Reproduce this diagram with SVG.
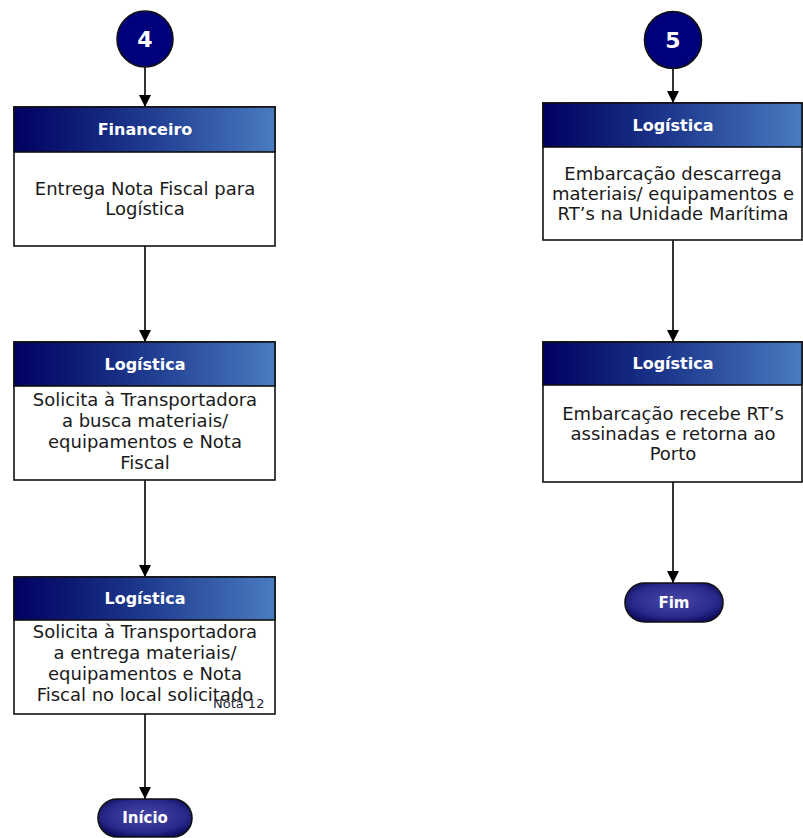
<svg xmlns="http://www.w3.org/2000/svg" width="803" height="838" viewBox="0 0 803 838">
<defs>
<linearGradient id="hdr" x1="0" y1="0" x2="1" y2="0">
<stop offset="0" stop-color="#000060"/>
<stop offset="0.5" stop-color="#1e3a8e"/>
<stop offset="1" stop-color="#4a7bbf"/>
</linearGradient>
<radialGradient id="term" cx="0.5" cy="0.45" r="0.6">
<stop offset="0" stop-color="#4848a8"/>
<stop offset="0.7" stop-color="#2a2a8c"/>
<stop offset="1" stop-color="#0c0c60"/>
</radialGradient>
<marker id="arr" viewBox="0 0 12 12" refX="12" refY="6" markerWidth="12" markerHeight="12" markerUnits="userSpaceOnUse" orient="auto">
<path d="M0,0 L12,6 L0,12 Z" fill="#000"/>
</marker>
</defs>
<style>
.box{fill:#fff;stroke:#111;stroke-width:1.6}
.hdr{fill:url(#hdr);stroke:#111;stroke-width:1.6}
.ht{font-family:"DejaVu Sans",Verdana,sans-serif;font-weight:bold;font-size:16px;fill:#fff;text-anchor:middle}
.bt{font-family:"DejaVu Sans",Verdana,sans-serif;font-size:18px;fill:#1a1a1a;text-anchor:middle}
.circ{fill:#00007a;stroke:#111;stroke-width:1.6}
.ct{font-family:"DejaVu Sans",Verdana,sans-serif;font-weight:bold;font-size:22px;fill:#fff;text-anchor:middle}
.term{fill:url(#term);stroke:#111;stroke-width:1.6}
.tt{font-family:"DejaVu Sans",Verdana,sans-serif;font-weight:bold;font-size:15px;fill:#fff;text-anchor:middle}
.con{stroke:#000;stroke-width:1.6;fill:none;marker-end:url(#arr)}
.note{font-family:"DejaVu Sans",Verdana,sans-serif;font-size:13px;fill:#223}
</style>

<g id="connectors">
<line class="con" x1="145" y1="67" x2="145" y2="107"/>
<line class="con" x1="145" y1="246" x2="145" y2="342"/>
<line class="con" x1="145" y1="480" x2="145" y2="577"/>
<line class="con" x1="145" y1="714" x2="145" y2="799"/>
<line class="con" x1="673" y1="69" x2="673" y2="103"/>
<line class="con" x1="673" y1="240" x2="673" y2="342"/>
<line class="con" x1="673" y1="482" x2="673" y2="583"/>
</g>

<g id="c4">
<circle class="circ" cx="145" cy="39" r="28"/>
<text class="ct" x="145" y="47">4</text>
</g>

<g id="financeiro">
<rect class="box" x="14" y="107" width="261" height="139"/>
<rect class="hdr" x="14" y="107" width="261" height="45"/>
<text class="ht" x="145" y="135">Financeiro</text>
<text class="bt" x="145" y="195">Entrega Nota Fiscal para</text>
<text class="bt" x="145" y="215">Logística</text>
</g>

<g id="logistica1">
<rect class="box" x="14" y="342" width="261" height="138"/>
<rect class="hdr" x="14" y="342" width="261" height="44"/>
<text class="ht" x="145" y="370">Logística</text>
<text class="bt" x="145" y="406">Solicita à Transportadora</text>
<text class="bt" x="145" y="427">a busca materiais/</text>
<text class="bt" x="145" y="448">equipamentos e Nota</text>
<text class="bt" x="145" y="469">Fiscal</text>
</g>

<g id="logistica2">
<rect class="box" x="14" y="577" width="261" height="137"/>
<rect class="hdr" x="14" y="577" width="261" height="43"/>
<text class="ht" x="145" y="604">Logística</text>
<text class="bt" x="145" y="638">Solicita à Transportadora</text>
<text class="bt" x="145" y="659">a entrega materiais/</text>
<text class="bt" x="145" y="680">equipamentos e Nota</text>
<text class="bt" x="145" y="701">Fiscal no local solicitado</text>
<text class="note" x="213" y="708">Nota 12</text>
</g>

<g id="inicio">
<rect class="term" x="98" y="799" width="94" height="38" rx="19" ry="19"/>
<text class="tt" x="145" y="823">Início</text>
</g>

<g id="c5">
<circle class="circ" cx="673" cy="40" r="28.5"/>
<text class="ct" x="673" y="48">5</text>
</g>

<g id="logistica3">
<rect class="box" x="543" y="103" width="259" height="137"/>
<rect class="hdr" x="543" y="103" width="259" height="44"/>
<text class="ht" x="673" y="131">Logística</text>
<text class="bt" x="673" y="180">Embarcação descarrega</text>
<text class="bt" x="673" y="200">materiais/ equipamentos e</text>
<text class="bt" x="673" y="220">RT’s na Unidade Marítima</text>
</g>

<g id="logistica4">
<rect class="box" x="543" y="342" width="259" height="140"/>
<rect class="hdr" x="543" y="342" width="259" height="43"/>
<text class="ht" x="673" y="369">Logística</text>
<text class="bt" x="673" y="420">Embarcação recebe RT’s</text>
<text class="bt" x="673" y="440">assinadas e retorna ao</text>
<text class="bt" x="673" y="460">Porto</text>
</g>

<g id="fim">
<rect class="term" x="625" y="583" width="98" height="39" rx="19.5" ry="19.5"/>
<text class="tt" x="674" y="608">Fim</text>
</g>
</svg>
